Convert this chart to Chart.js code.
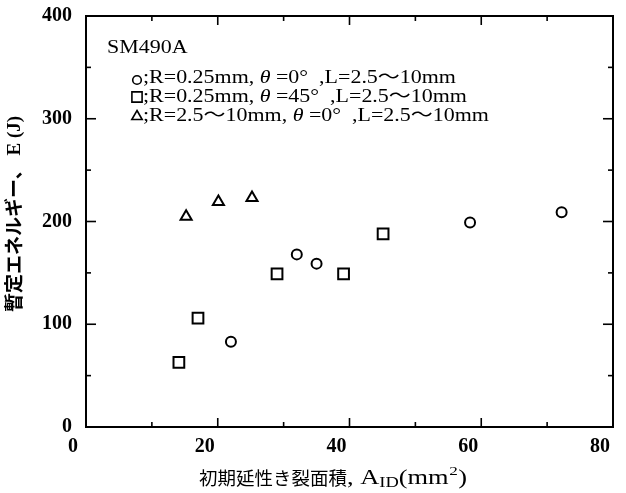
<!DOCTYPE html>
<html><head><meta charset="utf-8">
<script src="https://cdn.jsdelivr.net/npm/chart.js@4/dist/chart.umd.min.js"></script>
<style>html,body{margin:0;padding:0;background:#fff}#wrap{width:626px;height:493px}</style>
</head><body><div id="wrap"><canvas id="c" width="626" height="493"></canvas></div>
<script>
// ---- data ----
const circleX = [22.0, 32.0, 35.0, 58.3, 72.2];
const circleY = [83, 168, 159, 199, 209];
const squareX = [14.1, 17.0, 29.0, 39.1, 45.1];
const squareY = [63, 106, 149, 149, 188];
const triangleX = [15.2, 20.1, 25.2];
const triangleY = [204.7, 219.1, 223];
const xTicks = [0, 20, 40, 60, 80];
const xMinorTicks = [10, 30, 50, 70];
const yTicks = [0, 100, 200, 300, 400];
const yMinorTicks = [50, 150, 250, 350];
const materialLabel = 'SM490A';
const legendR = ['R=0.25mm', 'R=0.25mm', 'R=2.5\u301C10mm'];
const legendTheta = ['0\u00B0', '45\u00B0', '0\u00B0'];
const legendL = ['L=2.5\u301C10mm', 'L=2.5\u301C10mm', 'L=2.5\u301C10mm'];
const xTitleJa = '初期延性き裂面積';
const yTitleJa = '暫定エネルギー、';
const yTitleEn = 'E (J)';

const SERIF = '"Liberation Serif", "Noto Sans CJK JP", serif';
const JA = '"Noto Sans CJK JP", sans-serif';
const STRETCH = 1.22; // the reference's lettering is horizontally wide

function pts(xs, ys) { return xs.map((x, i) => ({ x: x, y: ys[i] })); }

const datasets = [
  { label: 'circle', data: pts(circleX, circleY), pointStyle: 'circle', pointRadius: 5, legendRadius: 4.3 },
  { label: 'square', data: pts(squareX, squareY), pointStyle: 'rect', pointRadius: 7.6, legendRadius: 7.2 },
  { label: 'triangle', data: pts(triangleX, triangleY), pointStyle: 'triangle', pointRadius: 6.4, legendRadius: 6.0 }
].map(d => Object.assign(d, {
  showLine: false, borderColor: '#000', backgroundColor: 'rgba(0,0,0,0)',
  pointBorderWidth: 2, pointBorderColor: '#000', pointBackgroundColor: 'rgba(0,0,0,0)'
}));

// draw text stretched horizontally; returns advance width
function wide(ctx, text, x, y, sx) {
  ctx.save();
  ctx.translate(x, y);
  ctx.scale(sx, 1);
  ctx.fillText(text, 0, 0);
  const w = ctx.measureText(text).width * sx;
  ctx.restore();
  return w;
}

const decor = {
  id: 'decor',
  afterDraw(chart) {
    const ctx = chart.ctx, a = chart.chartArea;
    const xs = chart.scales.x, ys = chart.scales.y;
    ctx.save();
    ctx.strokeStyle = '#000';
    ctx.lineWidth = 2;
    ctx.strokeRect(a.left, a.top, a.right - a.left, a.bottom - a.top);
    // inward ticks on all four sides
    ctx.lineWidth = 1.6;
    function xt(vals, len) {
      vals.forEach(v => {
        const px = xs.getPixelForValue(v);
        ctx.beginPath(); ctx.moveTo(px, a.bottom); ctx.lineTo(px, a.bottom - len); ctx.stroke();
        ctx.beginPath(); ctx.moveTo(px, a.top); ctx.lineTo(px, a.top + len); ctx.stroke();
      });
    }
    function yt(vals, len) {
      vals.forEach(v => {
        const py = ys.getPixelForValue(v);
        ctx.beginPath(); ctx.moveTo(a.left, py); ctx.lineTo(a.left + len, py); ctx.stroke();
        ctx.beginPath(); ctx.moveTo(a.right, py); ctx.lineTo(a.right - len, py); ctx.stroke();
      });
    }
    xt(xTicks, 9); xt(xMinorTicks, 5);
    yt(yTicks, 10); yt(yMinorTicks, 5);

    // in-plot legend
    ctx.fillStyle = '#000';
    ctx.textBaseline = 'alphabetic';
    ctx.textAlign = 'left';
    ctx.font = '18px ' + SERIF;
    wide(ctx, materialLabel, a.left + 21, a.top + 37, STRETCH);
    const base = [83, 102, 121];
    chart.data.datasets.forEach((ds, i) => {
      const by = base[i];
      const ms = { pointStyle: ds.pointStyle, radius: ds.legendRadius, borderWidth: 1.8, rotation: 0 };
      ctx.strokeStyle = '#000'; ctx.fillStyle = 'rgba(0,0,0,0)';
      const cy = ds.pointStyle === 'triangle' ? by - 4.5 : (ds.pointStyle === 'rect' ? by - 5 : by - 3);
      Chart.helpers.drawPoint(ctx, ms, a.left + 51, cy);
      ctx.fillStyle = '#000';
      let x = a.left + 57;
      ctx.font = '18px ' + SERIF;
      x += wide(ctx, ';' + legendR[i] + ', ', x, by, STRETCH);
      ctx.font = 'italic 18px ' + SERIF;
      x += wide(ctx, '\u03B8', x, by, STRETCH);
      ctx.font = '18px ' + SERIF;
      wide(ctx, ' =' + legendTheta[i] + '  ,' + legendL[i], x, by, STRETCH);
    });

    // x axis title with subscript and superscript
    let tx = 199, tb = 484;
    ctx.font = '18.5px ' + JA;
    ctx.fillText(xTitleJa, tx, tb + 1); tx += ctx.measureText(xTitleJa).width;
    const sx2 = 1.32;
    ctx.font = '20px ' + SERIF;
    tx += wide(ctx, ', A', tx, tb, sx2);
    ctx.font = '14px ' + SERIF;
    tx += wide(ctx, 'ID', tx, tb + 3, sx2);
    ctx.font = '20px ' + SERIF;
    tx += wide(ctx, '(mm', tx, tb, sx2);
    ctx.font = '13px ' + SERIF;
    tx += wide(ctx, '2', tx + 0.5, tb - 9, sx2) + 1;
    ctx.font = '20px ' + SERIF;
    wide(ctx, ')', tx, tb, sx2);

    // y axis title (rotated)
    ctx.save();
    ctx.translate(14, 214);
    ctx.rotate(-Math.PI / 2);
    ctx.textBaseline = 'middle';
    ctx.font = 'bold 19px ' + JA;
    const w1 = ctx.measureText(yTitleJa).width;
    ctx.font = 'bold 19px ' + SERIF;
    const w2 = ctx.measureText(' ' + yTitleEn).width;
    let ux = -(w1 + w2) / 2;
    ctx.font = 'bold 19px ' + JA;
    ctx.fillText(yTitleJa, ux, 0); ux += w1;
    ctx.font = 'bold 19px ' + SERIF;
    ctx.fillText(' ' + yTitleEn, ux, 1);
    ctx.restore();
    ctx.restore();
  }
};

function noPad(s) { s.paddingTop = 0; s.paddingBottom = 0; s.paddingLeft = 0; s.paddingRight = 0; }

new Chart(document.getElementById('c'), {
  type: 'scatter',
  data: { datasets: datasets },
  options: {
    responsive: false, animation: false, devicePixelRatio: 1,
    layout: { padding: { left: 0, right: 13, top: 16, bottom: 0 } },
    plugins: { legend: { display: false }, tooltip: { enabled: false } },
    scales: {
      x: {
        type: 'linear', min: 0, max: 80,
        afterBuildTicks: s => { s.ticks = xTicks.map(v => ({ value: v })); },
        afterFit: s => { s.height = 66; noPad(s); },
        grid: { display: false, drawTicks: false },
        border: { display: false },
        ticks: { color: '#000', font: { family: SERIF, size: 20, weight: 'bold' }, padding: 8, labelOffset: -13, maxRotation: 0, autoSkip: false }
      },
      y: {
        type: 'linear', min: 0, max: 400,
        afterBuildTicks: s => { s.ticks = yTicks.map(v => ({ value: v })); },
        afterFit: s => { s.width = 86; noPad(s); },
        grid: { display: false, drawTicks: false },
        border: { display: false },
        ticks: { color: '#000', font: { family: SERIF, size: 20, weight: 'bold' }, padding: 14 }
      }
    }
  },
  plugins: [decor]
});
</script>
</body></html>
